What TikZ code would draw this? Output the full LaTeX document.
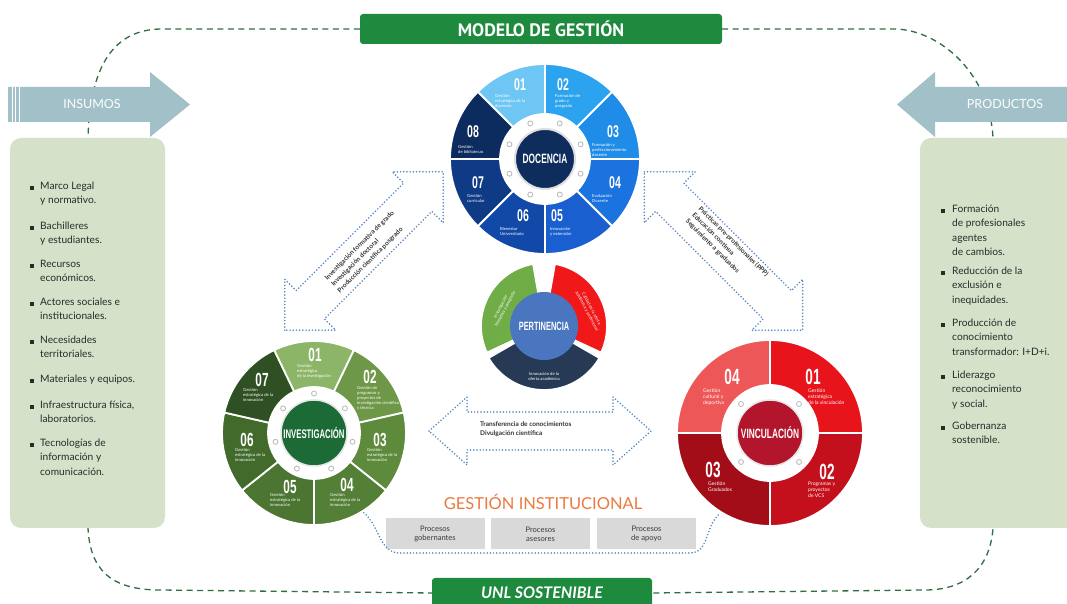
\documentclass[tikz,border=0pt]{standalone}
\usepackage{fontspec}
\setmainfont{Lato}
\newfontfamily\condfont[FakeStretch=0.62]{Liberation Sans}
\newfontfamily\ptfont{PT Sans}
\usetikzlibrary{calc}
\definecolor{banG}{HTML}{1E8A3E}
\definecolor{loopc}{HTML}{2F6E43}
\definecolor{dotc}{HTML}{4F84BE}
\definecolor{arrc}{HTML}{A2C0C8}
\definecolor{panelc}{HTML}{D5E1C9}
\definecolor{itemc}{HTML}{2A2A2A}
\definecolor{txtc}{HTML}{333333}
\definecolor{procc}{HTML}{D9D9D9}
\definecolor{procT}{HTML}{3A3A3A}
\definecolor{orangeT}{HTML}{EC7A3F}
\definecolor{dA}{HTML}{6EC6F4}
\definecolor{dB}{HTML}{2BA3EE}
\definecolor{dC}{HTML}{1F8DE8}
\definecolor{dD}{HTML}{1B73E0}
\definecolor{dE}{HTML}{1A5FD0}
\definecolor{dF}{HTML}{1249A8}
\definecolor{dG}{HTML}{0F3A86}
\definecolor{dH}{HTML}{0C2B5E}
\definecolor{docN}{HTML}{0E2D5C}
\definecolor{iA}{HTML}{8DB567}
\definecolor{iB}{HTML}{6E9848}
\definecolor{iC}{HTML}{5E8A3C}
\definecolor{iD}{HTML}{537F36}
\definecolor{iE}{HTML}{4B7531}
\definecolor{iF}{HTML}{416A2B}
\definecolor{iG}{HTML}{2F5022}
\definecolor{invN}{HTML}{1C6B36}
\definecolor{vA}{HTML}{E8141C}
\definecolor{vB}{HTML}{C40F1C}
\definecolor{vC}{HTML}{A30D18}
\definecolor{vD}{HTML}{EE5757}
\definecolor{vinN}{HTML}{B3162C}
\definecolor{pG}{HTML}{70AD47}
\definecolor{pR}{HTML}{F01818}
\definecolor{pN}{HTML}{263A55}
\definecolor{pB}{HTML}{4A76BF}
\newcommand{\wseg}[5]{%
  \filldraw[fill=#5, draw=white, line width=1.8pt] (#1:#4) arc[start angle=#1, end angle=#2, radius=#4] -- (#2:#3) arc[start angle=#2, end angle=#1, radius=#3] -- cycle;}
\newcommand{\dblarr}[7]{%
  \begin{scope}[shift={(#1,#2)},rotate=#3]
  \draw[dotline] (-#4,0) -- (-#4+#7,#6) -- (-#4+#7,#5) -- (#4-#7,#5) -- (#4-#7,#6) -- (#4,0) -- (#4-#7,-#6) -- (#4-#7,-#5) -- (-#4+#7,-#5) -- (-#4+#7,-#6) -- cycle;
  \end{scope}}
\begin{document}
\begin{tikzpicture}[x=1pt,y=1pt,
  loopline/.style={draw=loopc, line width=1.3pt, dash pattern=on 6pt off 4.5pt},
  dotline/.style={draw=dotc, line width=1.7pt, dash pattern=on 0pt off 3.2pt, line cap=round},
  banner/.style={fill=banG, rounded corners=3pt, text=white, inner sep=0pt},
  panelbox/.style={fill=panelc, rounded corners=11pt},
  sidelabel/.style={text=white, font=\fontsize{12.5}{14}\selectfont, inner sep=0pt},
  item/.style={anchor=north west, align=left, inner sep=0pt, text=itemc, font=\fontsize{10.2}{14.2}\selectfont},
  wnum/.style={text=white, inner sep=0pt, font=\condfont\bfseries\fontsize{17}{17}\selectfont},
  wtxt/.style={text=white, anchor=west, align=left, inner sep=0pt, font=\fontsize{4.2}{5}\selectfont},
  hub/.style={circle, inner sep=0pt, text=white},
  wdot/.style={circle, fill=white, draw=gray!55, line width=0.8pt, minimum size=5pt, inner sep=0pt},
  arrtxt/.style={align=left, inner sep=0pt, text=txtc, font=\bfseries\fontsize{6.5}{9}\selectfont},
  procbox/.style={fill=procc, minimum width=99pt, minimum height=31pt, align=center, inner sep=0pt, text=procT, font=\fontsize{7.6}{9}\selectfont}
]
\useasboundingbox (0,0) rectangle (1067,604);
\fill[white] (0,0) rectangle (1067,604);

% banners
\node[banner, minimum width=362pt, minimum height=30pt, font=\ptfont\bfseries\fontsize{18}{18}\selectfont] (topban) at (541,575) {MODELO DE GESTIÓN};
\node[banner, minimum width=220pt, minimum height=30pt, font=\bfseries\itshape\fontsize{16}{16}\selectfont] (botban) at (542,11) {UNL SOSTENIBLE};

% dashed loop
\draw[loopline] (topban.west) -- (160,575) .. controls (115,574) and (90,540) .. (88,466) -- (88,76) .. controls (90,35) and (110,14) .. (160,14) -- (botban.west);
\draw[loopline] (topban.east) -- (895,575) .. controls (940,574) and (990,530) .. (993,466) -- (993,76) .. controls (990,35) and (965,14) .. (925,14) -- (botban.east);

% side arrows
\fill[arrc] (8,482) -- (150,482) -- (150,467) -- (190,499.5) -- (150,532) -- (150,517) -- (8,517) -- cycle;
\foreach \xx in {12,15.5,19} \draw[white, line width=0.8pt] (\xx,482) -- (\xx,517);
\node[sidelabel] (insumos) at (92,500) {INSUMOS};
\fill[arrc] (1067,482) -- (935,482) -- (935,467) -- (897,499.5) -- (935,532) -- (935,517) -- (1067,517) -- cycle;
\node[sidelabel] (productos) at (1005,500) {PRODUCTOS};

% panels
\fill[panelbox] (10,76) rectangle (165,466);
\fill[panelbox] (920,76) rectangle (1085,466);

% left items
\foreach \yy/\tt [count=\k] in {416/{Marco Legal\\y normativo.},376/{Bachilleres\\y estudiantes.},338/{Recursos\\económicos.},300/{Actores sociales e\\institucionales.},262/{Necesidades\\territoriales.},223/{Materiales y equipos.},197/{Infraestructura física,\\laboratorios.},159/{Tecnologías de\\información y\\comunicación.}}{
  \fill[itemc] (30,\yy-2) rectangle (34,\yy+2);
  \node[item] (in\k) at (40,\yy+6) {\tt};
}
% right items
\foreach \yy/\tt [count=\k] in {393/{Formación\\de profesionales\\agentes\\de cambios.},331/{Reducción de la\\exclusión e\\inequidades.},279/{Producción de\\conocimiento\\transformador: I+D+i.},227/{Liderazgo\\reconocimiento\\y social.},176/{Gobernanza\\sostenible.}}{
  \fill[itemc] (941,\yy-2) rectangle (945,\yy+2);
  \node[item] (pr\k) at (952,\yy+6) {\tt};
}

% DOCENCIA wheel
\coordinate (D) at (545,445);
\begin{scope}[shift={(545,445)}]
  \wseg{90}{135}{45}{95}{dA}
  \wseg{45}{90}{45}{95}{dB}
  \wseg{0}{45}{45}{95}{dC}
  \wseg{-45}{0}{45}{95}{dD}
  \wseg{-90}{-45}{45}{95}{dE}
  \wseg{-135}{-90}{45}{95}{dF}
  \wseg{180}{225}{45}{95}{dG}
  \wseg{135}{180}{45}{95}{dH}
  \foreach \a [count=\k] in {22.5,67.5,112.5,157.5,202.5,247.5,292.5,337.5} \node[wdot] (dd\k) at (\a:38.5) {};
  \node[wnum] (d1n) at (-25,74) {01}; \node[wtxt] (d1t) at (-50,58) {Gestión\\estratégica de la\\docencia};
  \node[wnum] (d2n) at (18,74) {02}; \node[wtxt] (d2t) at (10,58) {Formación de\\grado y\\posgrado};
  \node[wnum] (d3n) at (68,27) {03}; \node[wtxt] (d3t) at (47,9) {Formación y\\perfeccionamiento\\docente};
  \node[wnum] (d4n) at (70,-24) {04}; \node[wtxt] (d4t) at (47,-39) {Evaluación\\Docente};
  \node[wnum] (d5n) at (12,-57) {05}; \node[wtxt] (d5t) at (5,-73) {Innovación\\y extensión};
  \node[wnum] (d6n) at (-22,-57) {06}; \node[wtxt] (d6t) at (-45,-72) {Bienestar\\Universitario};
  \node[wnum] (d7n) at (-67,-24) {07}; \node[wtxt] (d7t) at (-78,-39) {Gestión\\curricular};
  \node[wnum] (d8n) at (-72,27) {08}; \node[wtxt] (d8t) at (-87,10) {Gestión\\de bibliotecas};
\end{scope}
\node[hub, fill=docN, draw=gray!25, line width=2pt, minimum size=60pt, font=\condfont\bfseries\fontsize{13.5}{13.5}\selectfont] (doc) at (D) {DOCENCIA};

% INVESTIGACION wheel
\coordinate (I) at (314,171);
\begin{scope}[shift={(314,171)}]
  \wseg{64.29}{115.71}{46}{92}{iA}
  \wseg{12.86}{64.29}{46}{92}{iB}
  \wseg{-38.57}{12.86}{46}{92}{iC}
  \wseg{-90}{-38.57}{46}{92}{iD}
  \wseg{-141.43}{-90}{46}{92}{iE}
  \wseg{167.14}{218.57}{46}{92}{iF}
  \wseg{115.71}{167.14}{46}{92}{iG}
  \foreach \a [count=\k] in {90,38.57,-12.86,-64.29,-115.71,-167.14,141.43} \node[wdot] (id\k) at (\a:39.5) {};
  \begin{scope}[wnum/.append style={font=\condfont\bfseries\fontsize{19}{19}\selectfont}]
  \node[wnum] (i1n) at (1,78) {01}; \node[wtxt] (i1t) at (-17,62) {Gestión\\estratégica\\de la investigación};
  \node[wnum] (i2n) at (56,56) {02}; \node[wtxt] (i2t) at (43,35) {Gestión de\\programas y\\proyectos de\\investigación científica\\y técnica};
  \node[wnum] (i3n) at (66,-7) {03}; \node[wtxt] (i3t) at (53,-22) {Gestión\\estratégica de la\\innovación};
  \node[wnum] (i4n) at (33,-52) {04}; \node[wtxt] (i4t) at (16,-67) {Gestión\\estratégica de la\\innovación};
  \node[wnum] (i5n) at (-24,-54) {05}; \node[wtxt] (i5t) at (-44,-67) {Gestión\\estratégica de la\\innovación};
  \node[wnum] (i6n) at (-67,-7) {06}; \node[wtxt] (i6t) at (-79,-22) {Gestión\\estratégica de la\\innovación};
  \node[wnum] (i7n) at (-52,53) {07}; \node[wtxt] (i7t) at (-71,38) {Gestión\\estratégica de la\\innovación};
  \end{scope}
\end{scope}
\node[hub, fill=invN, draw=gray!20, line width=1.5pt, minimum size=66pt, font=\condfont\bfseries\fontsize{12.5}{12.5}\selectfont] (inv) at (I) {INVESTIGACIÓN};

% VINCULACION wheel
\coordinate (V) at (770,171);
\begin{scope}[shift={(770,171)}]
  \wseg{0}{90}{48}{93}{vA}
  \wseg{-90}{0}{48}{93}{vB}
  \wseg{180}{270}{48}{93}{vC}
  \wseg{90}{180}{48}{93}{vD}
  \foreach \a [count=\k] in {45,135,225,315} \node[wdot] (vd\k) at (\a:41) {};
  \begin{scope}[wnum/.append style={font=\condfont\bfseries\fontsize{22}{22}\selectfont}, wtxt/.append style={font=\fontsize{5}{6}\selectfont}]
  \node[wnum] (v4n) at (-38,56) {04}; \node[wtxt] (v4t) at (-67,36) {Gestión\\cultural y\\deportiva};
  \node[wnum] (v1n) at (43,56) {01}; \node[wtxt] (v1t) at (38,36) {Gestión\\estratégica\\de la vinculación};
  \node[wnum] (v2n) at (57,-39) {02}; \node[wtxt] (v2t) at (38,-57) {Programas y\\proyectos\\de VCS};
  \node[wnum] (v3n) at (-57,-37) {03}; \node[wtxt] (v3t) at (-62,-54) {Gestión\\Graduados};
  \end{scope}
\end{scope}
\node[hub, fill=vinN, draw=gray!20, line width=1.5pt, minimum size=66pt, font=\condfont\bfseries\fontsize{13.5}{13.5}\selectfont] (vin) at (V) {VINCULACIÓN};

% PERTINENCIA
\coordinate (P) at (544,278);
\begin{scope}[shift={(544,278)}]
  \wseg{100}{205}{20}{63}{pG}
  \wseg{-25}{80}{20}{63}{pR}
  \wseg{210}{330}{20}{64}{pN}
  \node[wtxt, anchor=center, align=center, rotate=62] (pgt) at (-41,18) {Investigación\\formativa y posgrado};
  \node[wtxt, anchor=center, align=center, rotate=-62] (prt) at (45,16) {Calidad de la oferta\\académica y profesional};
  \node[wtxt, anchor=center, align=center] (pnt) at (0,-50) {Innovación de la\\oferta académica};
\end{scope}
\node[hub, fill=pB, minimum size=68pt, font=\condfont\bfseries\fontsize{12}{12}\selectfont] (per) at (P) {PERTINENCIA};

% dotted double arrows
\dblarr{364}{353}{45}{112}{20}{36}{36}
\node[arrtxt, rotate=45] (la) at (366,352) {Investigación formativa de grado\\Investigación doctoral\\Producción científica posgrado};
\dblarr{723.5}{353}{-45}{112}{20}{36}{36}
\node[arrtxt, rotate=-45] (ra) at (727,356) {Prácticas pre-profesionales (PPP)\\Educación continua\\Seguimiento a graduados};
\dblarr{540}{173}{0}{111}{19}{34}{38}
\node[arrtxt, anchor=west] (ma) at (480,175) {Transferencia de conocimientos\\Divulgación científica};

% gestion institucional
\node[inner sep=0pt, text=orangeT, font=\fontsize{16.5}{16.5}\selectfont] (gi) at (543,102) {GESTIÓN INSTITUCIONAL};
\node[procbox] (p1) at (435,70) {Procesos\\gobernantes};
\node[procbox] (p2) at (540.5,70) {Procesos\\asesores};
\node[procbox] (p3) at (646.5,70) {Procesos\\de apoyo};
\draw[dotline] ($(I)+(-58:94)$) to[out=-40,in=180] (400,51) -- (690,51) to[out=0,in=-140] ($(V)+(-122:95)$);
\end{tikzpicture}
\end{document}
